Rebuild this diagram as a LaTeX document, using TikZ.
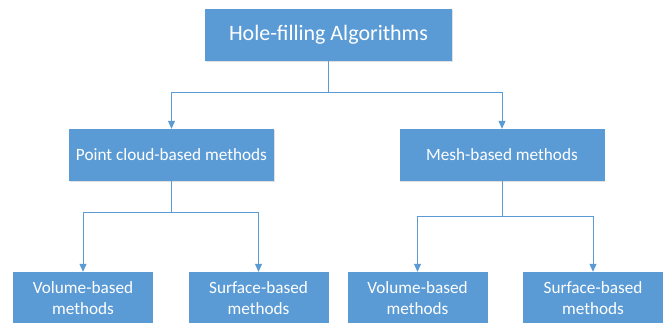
\documentclass[tikz,border=0pt]{standalone}
\usepackage{fontspec}
\setmainfont{Carlito}
\usetikzlibrary{arrows.meta}
\definecolor{boxblue}{HTML}{5B9BD5}
\tikzset{
  box/.style={fill=boxblue, draw=none, text=white, align=center, inner sep=0pt, font=\fontsize{17.2}{21}\selectfont},
  topbox/.style={box, minimum width=247pt, minimum height=52pt, font=\fontsize{22}{24}\selectfont},
  midbox/.style={box, minimum width=205pt, minimum height=52pt},
  leafbox/.style={box, minimum width=140pt, minimum height=52pt},
  conn/.style={draw=boxblue, line width=1pt},
  arr/.style={conn, -{Triangle[length=8pt,width=7pt]}},
  shadowed/.style={preaction={fill=black!12, transform canvas={xshift=0.8pt,yshift=-1.2pt}}}
}
\begin{document}
\begin{tikzpicture}[x=1pt,y=-1pt]
\useasboundingbox (0,0) rectangle (664,322);
\clip (0,0) rectangle (664,322);
\fill[white] (0,0) rectangle (664,322);
\node[topbox, shadowed] (top) at (328.5,35) {Hole-filling Algorithms};
\node[midbox, shadowed] (ml) at (171.5,155) {Point cloud-based methods};
\node[midbox, shadowed] (mr) at (502,155) {Mesh-based methods};
\node[leafbox] (ll) at (83,298) {Volume-based\\methods};
\node[leafbox] (lr) at (258.5,298) {Surface-based\\methods};
\node[leafbox] (rl) at (417.5,298) {Volume-based\\methods};
\node[leafbox] (rr) at (593,298) {Surface-based\\methods};
\coordinate (j0) at (328.5,92);
\coordinate (j1) at (171.5,212);
\coordinate (j2) at (502,216);
\draw[arr] (top.south) -- (j0) -| (ml.north);
\draw[arr] (j0) -| (mr.north);
\draw[arr] (ml.south) -- (j1) -| (ll.north);
\draw[arr] (j1) -| (lr.north);
\draw[arr] (mr.south) -- (j2) -| (rl.north);
\draw[arr] (j2) -| (rr.north);
\end{tikzpicture}
\end{document}
